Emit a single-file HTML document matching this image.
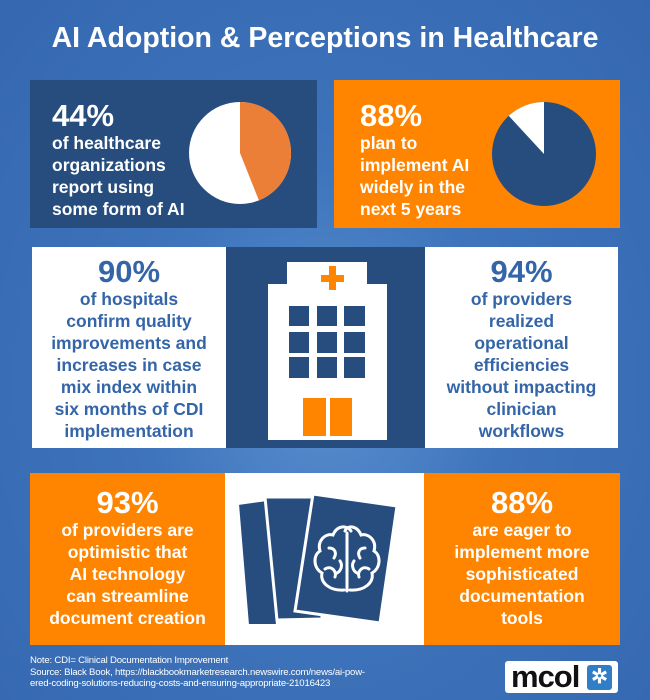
<!DOCTYPE html>
<html><head><meta charset="utf-8"><style>
*{margin:0;padding:0;box-sizing:border-box}
body{width:650px;height:700px;overflow:hidden;font-family:"Liberation Sans",sans-serif;font-weight:bold;
background:radial-gradient(ellipse at 50% 55%,#5a8fd0 0%,#3e74bb 40%,#3467b0 100%);position:relative}
.a{position:absolute}
.t{color:#fff;font-size:17.5px;line-height:22px}
.b{color:#3465a8;font-size:17.5px;line-height:22px;text-align:center}
.big{font-size:31px;line-height:32px}
</style></head><body>
<div class="a" style="left:0;top:22px;width:650px;text-align:center;color:#fff;font-size:28.5px">AI Adoption &amp; Perceptions in Healthcare</div>

<div class="a" style="left:30px;top:80px;width:287px;height:148px;background:#264d7e"></div>
<div class="a t" style="left:52px;top:100px"><div class="big">44%</div>of healthcare<br>organizations<br>report using<br>some form of AI</div>
<svg class="a" style="left:188px;top:101px" width="104" height="104" viewBox="-52 -52 104 104">
<circle r="51" fill="#fff"/>
<path d="M0 0 L0 -51 A51 51 0 0 1 18.9 47.4 Z" fill="#ec7f37"/></svg>

<div class="a" style="left:334px;top:80px;width:286px;height:148px;background:#ff8400"></div>
<div class="a t" style="left:360px;top:100px"><div class="big">88%</div>plan to<br>implement AI<br>widely in the<br>next 5 years</div>
<svg class="a" style="left:491px;top:101px" width="106" height="106" viewBox="-53 -53 106 106">
<circle r="52" fill="#264d7e"/>
<path d="M0 0 L0 -52 A52 52 0 0 0 -35.3 -38.2 Z" fill="#fff"/></svg>

<div class="a" style="left:32px;top:247px;width:194px;height:201px;background:#fff"></div>
<div class="a" style="left:226px;top:247px;width:199px;height:201px;background:#264d7e"></div>
<div class="a" style="left:425px;top:247px;width:193px;height:201px;background:#fff"></div>
<div class="a b" style="left:32px;top:256px;width:194px"><div class="big">90%</div>of hospitals<br>confirm quality<br>improvements and<br>increases in case<br>mix index within<br>six months of CDI<br>implementation</div>
<div class="a b" style="left:425px;top:256px;width:193px"><div class="big">94%</div>of providers<br>realized<br>operational<br>efficiencies<br>without impacting<br>clinician<br>workflows</div>
<svg class="a" style="left:226px;top:247px" width="199" height="201">
<path d="M42 37 H161 V193 H42 Z M61 15 H141 V37 H61 Z" fill="#fff"/>
<rect x="95" y="28" width="23" height="7" fill="#ff8400"/><rect x="103" y="19" width="7" height="24" fill="#ff8400"/>
<g fill="#264d7e">
<rect x="63" y="59" width="20" height="20"/><rect x="91" y="59" width="20" height="20"/><rect x="118" y="59" width="21" height="20"/>
<rect x="63" y="85" width="20" height="21"/><rect x="91" y="85" width="20" height="21"/><rect x="118" y="85" width="21" height="21"/>
<rect x="63" y="110" width="20" height="21"/><rect x="91" y="110" width="20" height="21"/><rect x="118" y="110" width="21" height="21"/></g>
<rect x="77" y="151" width="23" height="38" fill="#ff8400"/><rect x="104" y="151" width="22" height="38" fill="#ff8400"/>
</svg>

<div class="a" style="left:30px;top:473px;width:195px;height:172px;background:#ff8400"></div>
<div class="a" style="left:225px;top:473px;width:199px;height:172px;background:#fff"></div>
<div class="a" style="left:424px;top:473px;width:196px;height:172px;background:#ff8400"></div>
<div class="a t" style="left:30px;top:487px;width:195px;text-align:center"><div class="big">93%</div>of providers are<br>optimistic that<br>AI technology<br>can streamline<br>document creation</div>
<div class="a t" style="left:424px;top:487px;width:196px;text-align:center"><div class="big">88%</div>are eager to<br>implement more<br>sophisticated<br>documentation<br>tools</div>
<svg class="a" style="left:225px;top:473px" width="199" height="172">
<polygon points="13,31 42,27 52,152 23,152" fill="#264d7e" stroke="#fff" stroke-width="2"/>
<polygon points="40,24 95,24 97,146 52,147" fill="#264d7e" stroke="#fff" stroke-width="3"/>
<polygon points="88,21 172,33 155,150 70,138" fill="#264d7e" stroke="#fff" stroke-width="3"/>
<g fill="none" stroke="#fff" stroke-width="3" stroke-linecap="round">
<path d="M119 117 C105 118 95 110 97 100 C88 95 88 82 95 78 C92 68 100 60 108 62 C112 52 122 52 126 58"/>
<path d="M125 117 C139 118 149 110 147 100 C156 95 156 82 149 78 C152 68 144 60 136 62 C132 52 122 52 120 58"/>
<path d="M122 60 V118"/>
<path d="M104 75 C110 75 112 80 109 85 M100 96 C106 92 112 98 110 104 M115 88 C118 92 116 98 112 100"/>
<path d="M140 75 C134 75 132 80 135 85 M144 96 C138 92 132 98 134 104 M129 88 C126 92 128 98 132 100"/>
</g></svg>

<div class="a" style="left:30px;top:655px;color:#fff;font-size:9.6px;font-weight:normal;line-height:11.5px;letter-spacing:-0.2px">Note: CDI= Clinical Documentation Improvement<br>Source: Black Book, https://blackbookmarketresearch.newswire.com/news/ai-pow-<br>ered-coding-solutions-reducing-costs-and-ensuring-appropriate-21016423</div>
<div class="a" style="left:505px;top:661px;width:113px;height:32px;background:#fff;border-radius:3px"></div>
<div class="a" style="left:511px;top:660px;font-size:31px;color:#111;letter-spacing:-1px;line-height:34px">mcol</div>
<div class="a" style="left:587px;top:665px;width:25px;height:25px;background:#2f7ec7;border-radius:3px;color:#fff;font-size:20px;line-height:25px;text-align:center">✲</div>
</body></html>
